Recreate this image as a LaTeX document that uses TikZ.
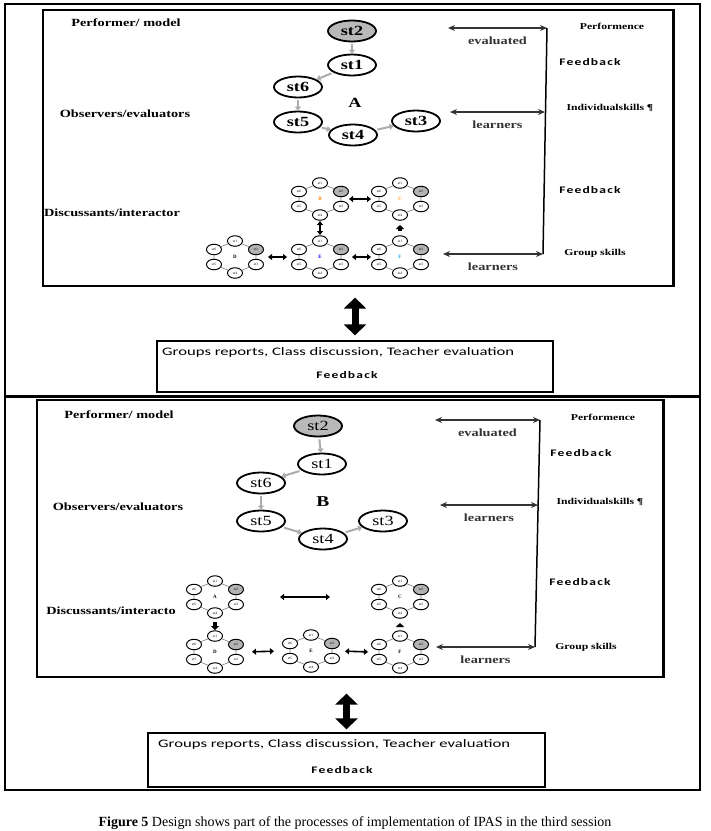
\documentclass[tikz,border=0pt]{standalone}
\usepackage{fontspec}
\setmainfont{Liberation Serif}
\newfontfamily\wideserif[FakeStretch=1.3]{Liberation Serif}
\newfontfamily\widesans[FakeStretch=1.45]{Carlito}
\newfontfamily\fbsans[FakeStretch=1.35,LetterSpace=12]{Carlito}
\usetikzlibrary{shapes.geometric,arrows.meta}

\tikzset{
  lbl/.style={font=\wideserif\fontsize{11}{13}\selectfont\bfseries, inner sep=0pt},
  sml/.style={font=\wideserif\fontsize{9}{11}\selectfont\bfseries, inner sep=0pt},
  fb/.style={font=\fbsans\fontsize{10}{12}\selectfont\bfseries, inner sep=0pt},
  rtext/.style={font=\widesans\fontsize{11.5}{13}\selectfont, inner sep=0pt},
  stu/.style={ellipse, draw, line width=1.8pt, minimum width=48pt, minimum height=21pt,
    inner sep=0pt, font=\wideserif\fontsize{14}{16}\selectfont\bfseries},
  perf/.style={stu, fill=gray!55},
  mini/.style={ellipse, draw, line width=1pt, minimum width=15pt, minimum height=10.5pt,
    inner sep=0pt, font=\fontsize{3.5}{4}\selectfont},
  ring/.style={gray, line width=0.6pt},
  grayarr/.style={-{Triangle[length=4pt 0,width=6pt 0]}, gray!65, line width=2pt,
    shorten <=2pt},
  twoway/.style={{Stealth[length=7pt 0,width=6pt 0]}-{Stealth[length=7pt 0,width=6pt 0]},
    line width=1.4pt, black!80},
  fbline/.style={line width=1.5pt},
  gdarr/.style={{Triangle[length=4pt 0,width=6pt 0]}-{Triangle[length=4pt 0,width=6pt 0]},
    line width=1.6pt},
  thickarr/.style={-{Triangle[length=4pt 0,width=8pt 0]}, line width=3.5pt},
  bigarr/.style={{Triangle[length=11pt 0,width=22pt 0]}-{Triangle[length=11pt 0,width=22pt 0]},
    line width=7pt},
  repbox/.style={draw, line width=1.3pt, inner sep=0pt},
  frame/.style={line width=1.6pt},
  grp/.pic={
    \node[mini] (-t) at (0,-16) {st1};
    \node[mini, fill=gray!60] (-ur) at (21,-7.5) {st2};
    \node[mini] (-lr) at (21,7.5) {st3};
    \node[mini] (-b) at (0,16) {st4};
    \node[mini] (-ll) at (-21,7.5) {st5};
    \node[mini] (-ul) at (-21,-7.5) {st6};
    \node[font=\fontsize{5}{6}\selectfont\bfseries, inner sep=0pt] (-c) at (0,0) {#1};
    \draw[ring] (-t) -- (-ur) -- (-lr) -- (-b) -- (-ll) -- (-ul) -- (-t);
    \coordinate (-e) at (29,0);
    \coordinate (-w) at (-29,0);
    \coordinate (-n) at (0,-22);
    \coordinate (-s) at (0,22);
  }
}

\begin{document}
\begin{tikzpicture}[x=1pt,y=-1pt]
\useasboundingbox (0,0) rectangle (711,831);
\fill[white] (0,0) rectangle (711,831);

% upper panel
\draw[frame] (5,4) rectangle (700,396);
\node[draw, line width=1.2pt, minimum width=630pt, minimum height=276pt] (in1) at (358,148) {};
\draw[line width=2.5pt] (in1.north east) -- (in1.south east);

\node[lbl] (perf1) at (126,23) {Performer/ model};
\node[lbl] (obs1) at (125,114) {Observers/evaluators};
\node[lbl] (disc1) at (112,213) {Discussants/interactor};

\node[perf] (a2) at (352,31) {st2};
\node[stu] (a1) at (352,65) {st1};
\node[stu] (a6) at (298,87) {st6};
\node[stu] (a5) at (298,122) {st5};
\node[stu] (a4) at (353,135) {st4};
\node[stu] (a3) at (416,121) {st3};
\node[font=\wideserif\fontsize{14}{16}\selectfont\bfseries] (lA) at (355,103) {A};
\draw[grayarr] (a2) -- (a1);
\draw[grayarr] (a1) -- (a6);
\draw[grayarr] (a6) -- (a5);
\draw[grayarr] (a5) -- (a4);
\draw[grayarr] (a4) -- (a3);

\coordinate (ev1) at (448,28);
\coordinate (j1) at (547,28);
\coordinate (le1) at (450,112);
\coordinate (j2) at (545,112);
\coordinate (le2) at (443,254);
\coordinate (j3) at (543,254);
\draw[twoway] (ev1) -- (j1) node[midway, below=8pt, lbl] {evaluated};
\draw[twoway] (le1) -- (j2) node[midway, below=8pt, lbl] {learners};
\draw[twoway] (le2) -- (j3) node[midway, below=8pt, lbl] {learners};
\draw[fbline] (j1) -- (j3);

\node[sml] (pf1) at (612,26) {Performence};
\node[fb] (fb1) at (590,62) {Feedback};
\node[sml] (ind1) at (610,108) {Individualskills ¶};
\node[fb] (fb2) at (590,190) {Feedback};
\node[sml] (gs1) at (595,253) {Group skills};

\pic (pB) at (320,199) {grp={\color{orange}B}};
\pic (pC) at (400,199) {grp={\color{orange!80!yellow}C}};
\pic (pD) at (235,257) {grp=D};
\pic (pE) at (320,257) {grp={\color{blue}E}};
\pic (pF) at (400,257) {grp={\color{cyan}F}};
\draw[gdarr] (pB-e) -- (pC-w);
\draw[gdarr, shorten <=4pt, shorten >=4pt] (pD-e) -- (pE-w);
\draw[gdarr, shorten <=3pt] (pE-e) -- (pF-w);
\draw[gdarr, line width=1.4pt] (pB-s) -- (pE-n);
\draw[thickarr, shorten <=4pt, shorten >=4pt] (pF-n) -- (pC-s);

\node[repbox, minimum width=396pt, minimum height=51pt] (rep1) at (355,366.5) {};
\node[rtext, anchor=west] (rep1a) at (162,352) {Groups reports, Class discussion, Teacher evaluation};
\node[fb] (rep1b) at (347,375) {Feedback};
\draw[bigarr, shorten <=11pt, shorten >=5pt] (rep1.north |- in1.south) -- (rep1.north);

% lower panel
\draw[frame] (5,397) rectangle (700,790);
\node[draw, line width=1.2pt, minimum width=626pt, minimum height=277pt] (in2) at (350,538.5) {};
\draw[line width=2.5pt] (in2.north east) -- (in2.south east);

\node[lbl] (perf2) at (119,415) {Performer/ model};
\node[lbl] (obs2) at (118,507) {Observers/evaluators};
\node[lbl] (disc2) at (111,611) {Discussants/interacto};

\node[perf, font=\wideserif\fontsize{14}{16}\selectfont] (b2) at (318,426) {st2};
\node[stu, font=\wideserif\fontsize{14}{16}\selectfont] (b1) at (322,464) {st1};
\node[stu, font=\wideserif\fontsize{14}{16}\selectfont] (b6) at (261,483) {st6};
\node[stu, font=\wideserif\fontsize{14}{16}\selectfont] (b5) at (261,521) {st5};
\node[stu, font=\wideserif\fontsize{14}{16}\selectfont] (b4) at (323,539) {st4};
\node[stu, font=\wideserif\fontsize{14}{16}\selectfont] (b3) at (383,521) {st3};
\node[font=\wideserif\fontsize{15}{17}\selectfont\bfseries] (lB) at (323,502) {B};
\draw[grayarr] (b2) -- (b1);
\draw[grayarr] (b1) -- (b6);
\draw[grayarr] (b6) -- (b5);
\draw[grayarr] (b5) -- (b4);
\draw[grayarr] (b4) -- (b3);

\coordinate (ev2) at (435,420);
\coordinate (k1) at (540,420);
\coordinate (le3) at (440,505);
\coordinate (k2) at (538,505);
\coordinate (le4) at (436,647);
\coordinate (k3) at (535,647);
\draw[twoway] (ev2) -- (k1) node[midway, below=8pt, lbl] {evaluated};
\draw[twoway] (le3) -- (k2) node[midway, below=8pt, lbl] {learners};
\draw[twoway] (le4) -- (k3) node[midway, below=8pt, lbl] {learners};
\draw[fbline] (k1) -- (k3);

\node[sml] (pf2) at (603,417) {Performence};
\node[fb] (fb3) at (581,453) {Feedback};
\node[sml] (ind2) at (600,502) {Individualskills ¶};
\node[fb] (fb4) at (580,582) {Feedback};
\node[sml] (gs2) at (586,647) {Group skills};

\pic (qA) at (215,597) {grp=A};
\pic (qC) at (400,597) {grp=C};
\pic (qD) at (215,652) {grp=D};
\pic (qE) at (311,651) {grp=E};
\pic (qF) at (400,652) {grp=F};
\draw[gdarr, shorten <=36pt, shorten >=41pt] (qA-e) -- (qC-w);
\draw[gdarr, shorten <=8pt, shorten >=8pt] (qD-e) -- (qE-w);
\draw[gdarr, shorten <=5pt, shorten >=3pt] (qE-e) -- (qF-w);
\draw[thickarr, shorten <=3pt] (qA-s) -- (qD-n);
\draw[thickarr, shorten <=4pt, shorten >=4pt] (qF-n) -- (qC-s);

\node[repbox, minimum width=397pt, minimum height=54pt] (rep2) at (346.5,760) {};
\node[rtext, anchor=west] (rep2a) at (158,744) {Groups reports, Class discussion, Teacher evaluation};
\node[fb] (rep2b) at (342,770) {Feedback};
\draw[bigarr, shorten <=16pt, shorten >=3pt] (rep2.north |- in2.south) -- (rep2.north);

\node[font=\fontsize{14}{16}\selectfont, inner sep=0pt] (cap) at (355,823)
  {\textbf{Figure 5} Design shows part of the processes of implementation of IPAS in the third session};
\end{tikzpicture}
\end{document}
